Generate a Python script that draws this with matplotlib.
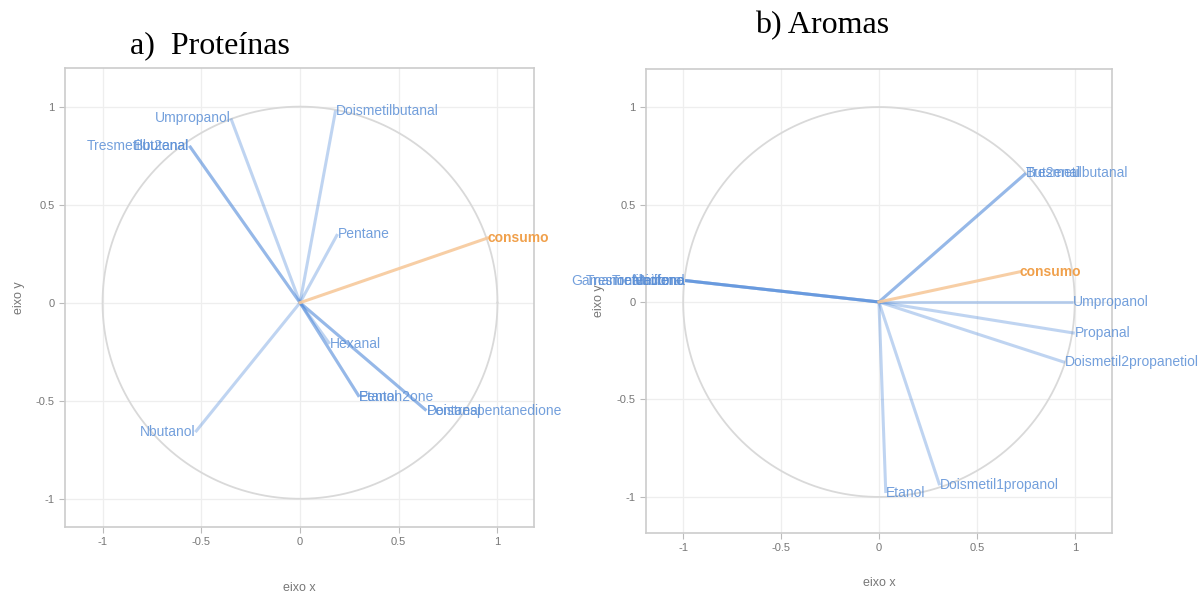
import matplotlib.pyplot as plt
import numpy as np

# a) Proteinas - loadings
prot_names = ['Doismetilbutanal', 'Umpropanol', 'Tresmetilbutanal', 'But2enal',
              'Pentane', 'Hexanal', 'Etanol', 'Pentan2one',
              'Doistrespentanedione', 'Pentanal', 'Nbutanol']
prot_x = [0.18, -0.35, -0.56, -0.56, 0.19, 0.15, 0.30, 0.30, 0.64, 0.64, -0.53]
prot_y = [0.98, 0.94, 0.80, 0.80, 0.35, -0.21, -0.48, -0.48, -0.55, -0.55, -0.66]
prot_consumo = (0.95, 0.33)

# b) Aromas - loadings
arom_names = ['Tresmetilbutanal', 'But2enal', 'Umpropanol', 'Propanal',
              'Doismetil2propanetiol', 'Doismetil1propanol', 'Etanol',
              'Gamanonalactona', 'Tresmetiltiofeno', 'Trefenilfeno', 'Metional']
arom_x = [0.75, 0.75, 0.99, 1.0, 0.95, 0.31, 0.035, -0.99, -0.99, -0.99, -0.99]
arom_y = [0.66, 0.66, 0.0, -0.16, -0.31, -0.94, -0.98, 0.11, 0.11, 0.11, 0.11]
arom_consumo = (0.72, 0.155)

ticks = [-1, -0.5, 0, 0.5, 1]
tick_labels = ['-1', '-0.5', '0', '0.5', '1']

LINE_BLUE = '#4a86d8'
TEXT_BLUE = '#5b8fd6'
ORANGE_LINE = '#f7c99b'
ORANGE_TEXT = '#f0a04b'


def draw_panel(ax, names, xs, ys, consumo, xlim, ylim, xpad, ypad):
    theta = np.linspace(0, 2 * np.pi, 400)
    ax.plot(np.cos(theta), np.sin(theta), color='#d9d9d9', lw=1.3, zorder=1)
    for name, x, y in zip(names, xs, ys):
        ax.plot([0, x], [0, y], color=LINE_BLUE, alpha=0.35, lw=2.2,
                solid_capstyle='butt', zorder=2)
        ha = 'right' if x < 0 else 'left'
        ax.text(x, y, name, ha=ha, va='center', fontsize=10,
                color=TEXT_BLUE, alpha=0.85, family='Liberation Sans',
                clip_on=False, zorder=4)
    cx, cy = consumo
    ax.plot([0, cx], [0, cy], color=ORANGE_LINE, lw=2.2, alpha=0.9, zorder=2)
    ax.text(cx, cy, 'consumo', ha='left', va='center', fontsize=10,
            fontweight='bold', color=ORANGE_TEXT, family='Liberation Sans',
            clip_on=False, zorder=4)

    ax.set_xlim(*xlim)
    ax.set_ylim(*ylim)
    ax.set_xticks(ticks)
    ax.set_xticklabels(tick_labels)
    ax.set_yticks(ticks)
    ax.set_yticklabels(tick_labels)
    ax.grid(True, color='#eeeeee', lw=0.9)
    ax.set_axisbelow(True)
    for sp in ax.spines.values():
        sp.set_color('#cccccc')
        sp.set_linewidth(1.2)
    ax.tick_params(colors='#bbbbbb', labelcolor='#777777', labelsize=8,
                   length=4, width=0.8)
    for lbl in ax.get_xticklabels() + ax.get_yticklabels():
        lbl.set_family('Liberation Sans')
    ax.set_xlabel('eixo x', fontsize=9, color='#777777',
                  family='Liberation Sans', labelpad=xpad)
    ax.set_ylabel('eixo y', fontsize=9, color='#777777',
                  family='Liberation Sans', labelpad=ypad)


fig = plt.figure(figsize=(12, 5.94), dpi=100)
ax1 = fig.add_axes([0.0542, 0.1128, 0.3908, 0.7727])
ax2 = fig.add_axes([0.5383, 0.1027, 0.3883, 0.7811])

draw_panel(ax1, prot_names, prot_x, prot_y, prot_consumo,
           (-1.19, 1.185), (-1.144, 1.197), 25, 8)
draw_panel(ax2, arom_names, arom_x, arom_y, arom_consumo,
           (-1.19, 1.19), (-1.185, 1.195), 17, 8)

fig.text(130 / 1200, 1 - 53 / 594, 'a)  Proteínas', fontsize=23,
         family='Liberation Serif', ha='left', va='baseline')
fig.text(755 / 1200, 1 - 33 / 594, 'b) Aromas', fontsize=23,
         family='Liberation Serif', ha='left', va='baseline')

fig.savefig('out.png', dpi=100)
